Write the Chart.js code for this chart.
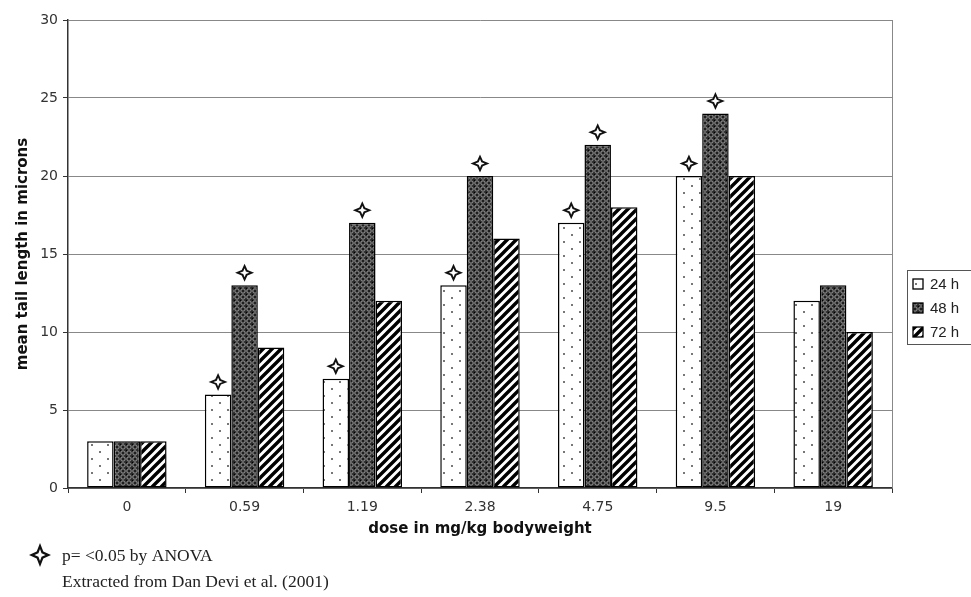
<!DOCTYPE html>
<html>
<head>
<meta charset="utf-8">
<script src="https://cdn.jsdelivr.net/npm/chart.js@4.4.1/dist/chart.umd.min.js"></script>
<style>
html,body{margin:0;padding:0;background:#fff;}
#wrap{position:relative;width:971px;height:597px;}
</style>
</head>
<body>
<div id="wrap"><canvas id="c" width="971" height="597"></canvas></div>
<script>
const categories = ['0', '0.59', '1.19', '2.38', '4.75', '9.5', '19'];
const seriesNames = ['24 h', '48 h', '72 h'];
const values24 = [3, 6, 7, 13, 17, 20, 12];
const values48 = [3, 13, 17, 20, 22, 24, 13];
const values72 = [3, 9, 12, 16, 18, 20, 10];
const sig24 = [0, 1, 1, 1, 1, 1, 0];
const sig48 = [0, 1, 1, 1, 1, 1, 0];
const yTicks = [0, 5, 10, 15, 20, 25, 30];
const yTitle = 'mean tail length in microns';
const xTitle = 'dose in mg/kg bodyweight';
const footnote1 = 'p= <0.05 by ANOVA';
const footnote2 = 'Extracted from Dan Devi et al. (2001)';

function makePattern(w, h, draw) {
  const c = document.createElement('canvas');
  c.width = w; c.height = h;
  const x = c.getContext('2d');
  draw(x, w, h);
  return x.createPattern(c, 'repeat');
}
const patDots = makePattern(16, 14, (x, w, h) => {
  x.fillStyle = '#fff'; x.fillRect(0, 0, w, h);
  x.fillStyle = '#777';
  x.fillRect(3, 3, 2, 2);
  x.fillRect(11, 10, 2, 2);
});
const patCross = makePattern(6, 6, (x, w, h) => {
  x.fillStyle = '#2a2a2a'; x.fillRect(0, 0, w, h);
  x.strokeStyle = '#9a9a9a'; x.lineWidth = 1;
  x.beginPath(); x.arc(3, 3, 2.2, 0, Math.PI * 2); x.stroke();
  x.fillStyle = '#000';
  x.fillRect(2.5, 2.5, 1, 1);
  x.fillRect(0, 0, 1, 1);
});
const patStripe = makePattern(9, 9, (x, w, h) => {
  x.fillStyle = '#fff'; x.fillRect(0, 0, w, h);
  x.strokeStyle = '#000'; x.lineWidth = 3.4;
  x.beginPath();
  x.moveTo(-3, 12); x.lineTo(12, -3);
  x.moveTo(-7, 7); x.lineTo(7, -7);
  x.moveTo(2, 16); x.lineTo(16, 2);
  x.stroke();
});
const patterns = [patDots, patCross, patStripe];

function drawStar(ctx, cx, cy, rx, ry) {
  ry = ry || rx;
  function path(sx, sy, k) {
    const ix = sx * k, iy = sy * k;
    ctx.beginPath();
    ctx.moveTo(cx, cy - sy);
    ctx.lineTo(cx + ix, cy - iy);
    ctx.lineTo(cx + sx, cy);
    ctx.lineTo(cx + ix, cy + iy);
    ctx.lineTo(cx, cy + sy);
    ctx.lineTo(cx - ix, cy + iy);
    ctx.lineTo(cx - sx, cy);
    ctx.lineTo(cx - ix, cy - iy);
    ctx.closePath();
  }
  ctx.save();
  ctx.fillStyle = '#111';
  path(rx, ry, 0.3); ctx.fill();
  ctx.fillStyle = '#fff';
  path(rx * 0.5, ry * 0.5, 0.28); ctx.fill();
  ctx.restore();
}

const extras = {
  id: 'extras',
  afterDatasetsDraw(chart) {
    const ctx = chart.ctx;
    const sigs = [sig24, sig48];
    sigs.forEach((sig, di) => {
      const meta = chart.getDatasetMeta(di);
      meta.data.forEach((bar, i) => {
        if (sig[i]) drawStar(ctx, bar.x, bar.y - 12.5, 9.5, 9);
      });
    });
  },
  afterDraw(chart) {
    const ctx = chart.ctx;
    const a = chart.chartArea;
    ctx.save();
    ctx.strokeStyle = '#888'; ctx.lineWidth = 1;
    ctx.beginPath();
    ctx.moveTo(a.right + 0.5, a.top); ctx.lineTo(a.right + 0.5, a.bottom);
    ctx.stroke();
    // legend
    const lx = 907, ly = 270, lh = 74;
    ctx.strokeStyle = '#555'; ctx.lineWidth = 1;
    ctx.strokeRect(lx + 0.5, ly + 0.5, 80, lh);
    ctx.font = '15px "Liberation Sans", Arial, sans-serif';
    ctx.textBaseline = 'middle';
    seriesNames.forEach((n, i) => {
      const y = 284 + i * 24;
      ctx.fillStyle = patterns[i];
      ctx.fillRect(913, y - 5, 10, 10);
      ctx.strokeStyle = '#000'; ctx.lineWidth = 1.3;
      ctx.strokeRect(913, y - 5, 10, 10);
      ctx.fillStyle = '#222';
      ctx.fillText(n, 930, y + 1);
    });
    // footnotes
    drawStar(ctx, 40, 555, 11, 12);
    ctx.fillStyle = '#222';
    ctx.font = '17.5px "Liberation Serif", "Times New Roman", serif';
    ctx.textBaseline = 'alphabetic';
    ctx.fillText(footnote1, 62, 561);
    ctx.fillText(footnote2, 62, 587);
    ctx.restore();
  }
};

const FONT = '"DejaVu Sans", "Liberation Sans", Arial, sans-serif';
new Chart(document.getElementById('c'), {
  type: 'bar',
  data: {
    labels: categories,
    datasets: [values24, values48, values72].map((v, i) => ({
      label: seriesNames[i],
      data: v,
      backgroundColor: patterns[i],
      borderColor: '#000',
      borderWidth: 1.5,
      borderSkipped: false,
      categoryPercentage: 0.675,
      barPercentage: 1.0
    }))
  },
  options: {
    responsive: false,
    animation: false,
    events: [],
    layout: { padding: { left: 14, right: 79, top: 20, bottom: 59 } },
    plugins: { legend: { display: false }, tooltip: { enabled: false } },
    scales: {
      x: {
        grid: { display: true, drawOnChartArea: false, drawTicks: true, tickLength: 5, offset: true, color: '#333', lineWidth: 1 },
        border: { display: true, color: '#333', width: 1.5 },
        ticks: { color: '#333', font: { family: FONT, size: 14 }, padding: 6 },
        title: { display: true, text: xTitle, color: '#111', font: { family: FONT, size: 15, weight: 'bold' }, padding: { top: 4, bottom: 0 } },
        afterFit(s) { s.height = 50; }
      },
      y: {
        min: 0, max: 30,
        afterBuildTicks(s) { s.ticks = yTicks.map(v => ({ value: v })); },
        grid: { color: '#888', lineWidth: 1, drawTicks: true, tickLength: 5, tickColor: '#333' },
        border: { display: true, color: '#333', width: 1.5 },
        ticks: { color: '#333', font: { family: FONT, size: 14 }, padding: 5 },
        title: { display: true, text: yTitle, color: '#111', font: { family: FONT, size: 15, weight: 'bold' }, padding: { top: 0, bottom: 6 } },
        afterFit(s) { s.width = 54; }
      }
    }
  },
  plugins: [extras]
});
</script>
</body>
</html>
